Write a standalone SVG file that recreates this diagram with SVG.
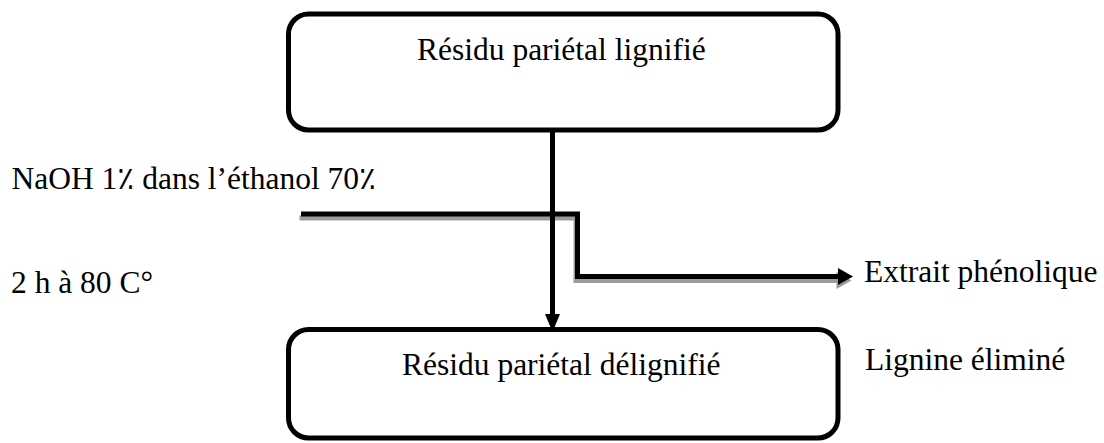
<svg xmlns="http://www.w3.org/2000/svg" width="1104" height="443" viewBox="0 0 1104 443">
  <defs>
    <style>
      .lbl { font-family: "Liberation Serif", "Times New Roman", "DejaVu Sans", serif; font-size: 31.5px; fill: #000; }
      .box { fill: #fff; stroke: #000; stroke-width: 5; }
      .wire { fill: none; stroke: #000; stroke-width: 5; }
      .shade { fill: none; stroke: #9c9c9c; stroke-width: 5; }
    </style>
  </defs>
  <rect width="1104" height="443" fill="#fff"/>

  <g id="node-lignifie">
    <rect class="box" x="288.5" y="14" width="549.5" height="116" rx="20" ry="20"/>
    <text class="lbl" x="417" y="60">Résidu pariétal lignifié</text>
  </g>

  <g id="node-delignifie">
    <rect class="box" x="288.5" y="329.5" width="549.5" height="108.5" rx="20" ry="20"/>
    <text class="lbl" x="402" y="375">Résidu pariétal délignifié</text>
  </g>

  <g id="connectors">
    <!-- soft drop shadow under the extraction branch -->
    <g transform="translate(-1.5,4)">
      <polyline class="shade" points="301,214 577.5,214 577.5,276.5 840,276.5"/>
      <polygon points="838,268 853,276.5 838,285" fill="#9c9c9c"/>
    </g>
    <!-- main vertical flow -->
    <line class="wire" x1="552.5" y1="130" x2="552.5" y2="316"/>
    <polygon points="545,314 560,314 552.5,332" fill="#000"/>
    <!-- extraction branch -->
    <polyline class="wire" points="301,214 577.5,214 577.5,276.5 840,276.5"/>
    <polygon points="838,268 853,276.5 838,285" fill="#000"/>
  </g>

  <g id="labels">
    <text class="lbl" x="11.5" y="189">NaOH 1٪ dans l’éthanol 70٪</text>
    <text class="lbl" x="11" y="293">2 h à 80 C°</text>
    <text class="lbl" x="864" y="282">Extrait phénolique</text>
    <text class="lbl" x="865" y="370">Lignine éliminé</text>
  </g>
</svg>
